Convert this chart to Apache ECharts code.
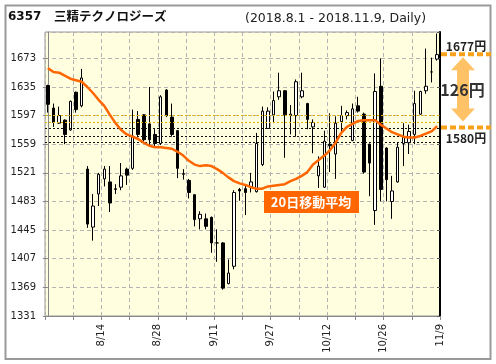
<!DOCTYPE html>
<html><head><meta charset="utf-8">
<script src="https://cdn.jsdelivr.net/npm/echarts@6/dist/echarts.min.js"></script>
<style>html,body{margin:0;padding:0;background:#fff}#c{width:496px;height:364px}</style>
</head><body><div id="c"></div>
<script>
const dates = ['8/1','8/2','8/3','8/6','8/7','8/8','8/9','8/10','8/13','8/14','8/15','8/16','8/17','8/20','8/21','8/22','8/23','8/24','8/27','8/28','8/29','8/30','8/31','9/3','9/4','9/5','9/6','9/7','9/10','9/11','9/12','9/13','9/14','9/18','9/19','9/20','9/21','9/25','9/26','9/27','9/28','10/1','10/2','10/3','10/4','10/5','10/9','10/10','10/11','10/12','10/15','10/16','10/17','10/18','10/19','10/22','10/23','10/24','10/25','10/26','10/29','10/30','10/31','11/1','11/2','11/5','11/6','11/7','11/8','11/9'];
const opens = [1637,1607,1587,1591,1578,1628,1610,1526,1449,1493,
  1513,1509,1499,1502,1526,1527,1592,1598,1586,1572,
  1560,1631,1595,1577,1519,1511,1492,1460,1460,1462,
  1428,1428,1374,1397,1499,1500,1502,1496,1532,1580,
  1598,1622,1630,1597,1597,1622,1613,1582,1517,1502,
  1559,1546,1589,1597,1564,1610,1599,1559,1471,1636,
  1554,1483,1509,1560,1561,1572,1599,1630,1655,1672];
const closes = [1612,1588,1597,1572,1616,1605,1647,1453,1477,1519,
  1526,1481,1500,1517,1518,1570,1572,1565,1565,1560,
  1622,1597,1572,1527,1520,1495,1459,1466,1450,1428,
  1428,1368,1388,1495,1497,1495,1509,1560,1603,1603,
  1617,1630,1598,1599,1642,1630,1592,1588,1530,1563,
  1557,1587,1597,1601,1606,1603,1522,1534,1629,1499,
  1512,1497,1555,1568,1576,1613,1629,1636,1655,1678];
const lows = [1601,1582,1586,1559,1577,1601,1608,1448,1431,1477,
  1503,1469,1493,1498,1505,1525,1568,1561,1558,1556,
  1558,1595,1569,1514,1512,1487,1450,1446,1446,1415,
  1403,1366,1373,1393,1484,1465,1495,1495,1530,1580,
  1587,1618,1541,1572,1569,1620,1579,1547,1501,1501,
  1522,1513,1575,1592,1563,1601,1520,1490,1452,1483,
  1483,1460,1508,1530,1546,1559,1598,1626,1641,1670];
const highs = [1638,1613,1609,1592,1617,1629,1659,1530,1493,1521,
  1530,1530,1506,1534,1528,1605,1603,1599,1635,1579,
  1624,1632,1613,1578,1526,1513,1493,1470,1467,1463,
  1446,1429,1406,1498,1501,1505,1521,1574,1609,1608,
  1629,1654,1631,1611,1645,1654,1614,1592,1543,1577,
  1600,1596,1610,1604,1613,1622,1601,1560,1653,1673,
  1555,1517,1561,1587,1585,1630,1630,1686,1674,1706];
const ma20 = [1660,1655,1654,1650,1646,1644,1642,1635,1627,1618,
  1610,1598,1587,1578,1572,1569,1566,1561,1557,1555,
  1555,1554,1553,1549,1544,1537,1532,1530,1531,1530,
  1526,1521,1515,1510,1507,1505,1502,1500,1500,1503,
  1504,1505,1506,1510,1513,1517,1522,1532,1538,1544,
  1551,1561,1574,1582,1586,1590,1591,1591,1591,1585,
  1580,1575,1572,1569,1568,1568,1570,1573,1576,1583];
const goldLevels = [1597, 1588];
const blackLevels = [1580, 1570, 1562];
const yMin = 1331, yMax = 1708, yStep = 38;
const rangeHigh = 1677, rangeLow = 1580, rangeDiff = 126;

const ohlc = opens.map((o, i) => [o, closes[i], lows[i], highs[i]]);
const chart = echarts.init(document.getElementById('c'), null, {renderer: 'canvas'});
const axisFont = 'DejaVu Sans';
const option = {
  animation: false,
  backgroundColor: '#ffffff',
  grid: {left: 45, top: 32, right: 56, bottom: 48, show: true, backgroundColor: '#FFFFE0', borderColor: '#999', borderWidth: 1},
  xAxis: [
    {type: 'category', data: dates, boundaryGap: true, show: false},
    {type: 'value', min: -0.5, max: 69.5, interval: 5, position: 'bottom',
     axisLine: {show: true, lineStyle: {color: '#888'}},
     axisTick: {show: true, length: 4, lineStyle: {color: '#888'}},
     splitLine: {show: true, lineStyle: {color: '#b4b4b4', type: [4, 3]}},
     axisLabel: {rotate: 90, margin: 8, color: '#222', fontFamily: axisFont, fontSize: 10,
       showMinLabel: true, showMaxLabel: true,
       formatter: v => { const i = Math.round(v - 0.5); return (i >= 0 && i % 10 === 9) ? dates[i] : ''; }}}
  ],
  yAxis: [
    {type: 'value', min: yMin, max: yMax, interval: yStep, position: 'left',
     axisLine: {show: true, lineStyle: {color: '#888'}},
     axisTick: {show: true, length: 5, lineStyle: {color: '#888'}},
     splitLine: {show: true, lineStyle: {color: '#b4b4b4', type: [4, 3]}},
     axisLabel: {color: '#222', fontFamily: axisFont, fontSize: 10, margin: 9, showMaxLabel: false,
       formatter: v => String(Math.round(v))}},
    {type: 'value', min: yMin, max: yMax, interval: yStep, position: 'right',
     axisLine: {show: true, lineStyle: {color: '#000', width: 2}},
     axisTick: {show: true, inside: true, length: 3, lineStyle: {color: '#555'}},
     axisLabel: {show: false}, splitLine: {show: false}}
  ],
  series: [
    {type: 'line', xAxisIndex: 0, yAxisIndex: 0, data: [], z: 1, silent: true,
     markLine: {silent: true, symbol: ['none', 'none'], label: {show: false}, animation: false,
       data: goldLevels.map(v => ({yAxis: v, lineStyle: {color: '#E0B000', type: [2, 2], width: 1}}))
         .concat(blackLevels.map(v => ({yAxis: v, lineStyle: {color: '#111', type: [2, 2], width: 1}})))}},
    {type: 'candlestick', xAxisIndex: 0, yAxisIndex: 0, data: ohlc, barWidth: 3, z: 3,
     itemStyle: {color: '#ffffff', color0: '#000000', borderColor: '#000000', borderColor0: '#000000', borderWidth: 1}},
    {type: 'line', xAxisIndex: 0, yAxisIndex: 0, data: ma20, symbol: 'none', z: 5, silent: true,
     lineStyle: {color: '#FF6600', width: 2.5}}
  ]
};
chart.setOption(option);

const yHi = chart.convertToPixel({yAxisIndex: 0}, rangeHigh);
const yLo = chart.convertToPixel({yAxisIndex: 0}, rangeLow);
const ax = 463;
const aTop = yHi + 2, aBot = yLo - 7;
const cjk = '"Noto Sans CJK JP", sans-serif';
chart.setOption({
  graphic: [
    {type: 'rect', z: 100, shape: {x: 5.5, y: 5.5, width: 485, height: 353.5}, style: {fill: 'none', stroke: '#9a9a9a', lineWidth: 2}},
    {type: 'text', z: 100, style: {text: '6357', x: 8, y: 17, font: 'bold 12px "DejaVu Sans"', fill: '#111', textVerticalAlign: 'middle'}},
    {type: 'text', z: 100, style: {text: '三精テクノロジーズ', x: 54, y: 16, font: 'bold 12.5px ' + cjk, fill: '#111', textVerticalAlign: 'middle'}},
    {type: 'text', z: 100, style: {text: '(2018.8.1 - 2018.11.9, Daily)', x: 245, y: 18.5, font: '12.5px "DejaVu Sans"', fill: '#222', textVerticalAlign: 'middle'}},
    {type: 'rect', z: 100, shape: {x: 264, y: 191, width: 95, height: 22}, style: {fill: '#FF6600'}},
    {type: 'text', z: 101, style: {text: '20日移動平均', x: 311, y: 202.5, font: 'bold 13px ' + cjk, fill: '#fff', textAlign: 'center', textVerticalAlign: 'middle'}},
    {type: 'line', z: 100, shape: {x1: 441, y1: yHi - 1, x2: 491, y2: yHi - 1}, style: {stroke: '#F9A11B', lineWidth: 4, lineDash: [6, 3]}},
    {type: 'line', z: 100, shape: {x1: 441, y1: yLo - 1, x2: 491, y2: yLo - 1}, style: {stroke: '#F9A11B', lineWidth: 4, lineDash: [6, 3]}},
    {type: 'polygon', z: 99, shape: {points: [
      [ax, aTop], [ax + 12, aTop + 13], [ax + 6, aTop + 13], [ax + 6, aBot - 13], [ax + 12, aBot - 13],
      [ax, aBot], [ax - 12, aBot - 13], [ax - 6, aBot - 13], [ax - 6, aTop + 13], [ax - 12, aTop + 13]]},
     style: {fill: '#FFC266'}},
    {type: 'text', z: 101, style: {text: rangeHigh + '円', x: 466, y: yHi - 9, font: 'bold 12px ' + cjk, fill: '#222', textAlign: 'center', textVerticalAlign: 'middle'}},
    {type: 'text', z: 101, style: {text: rangeLow + '円', x: 466, y: yLo + 10, font: 'bold 12px ' + cjk, fill: '#222', textAlign: 'center', textVerticalAlign: 'middle'}},
    {type: 'text', z: 101, style: {text: rangeDiff + '円', x: 462.5, y: (yHi + yLo) / 2 - 2, font: 'bold 16px ' + cjk, fill: '#333', textAlign: 'center', textVerticalAlign: 'middle'}}
  ]
});
</script>
</body></html>
